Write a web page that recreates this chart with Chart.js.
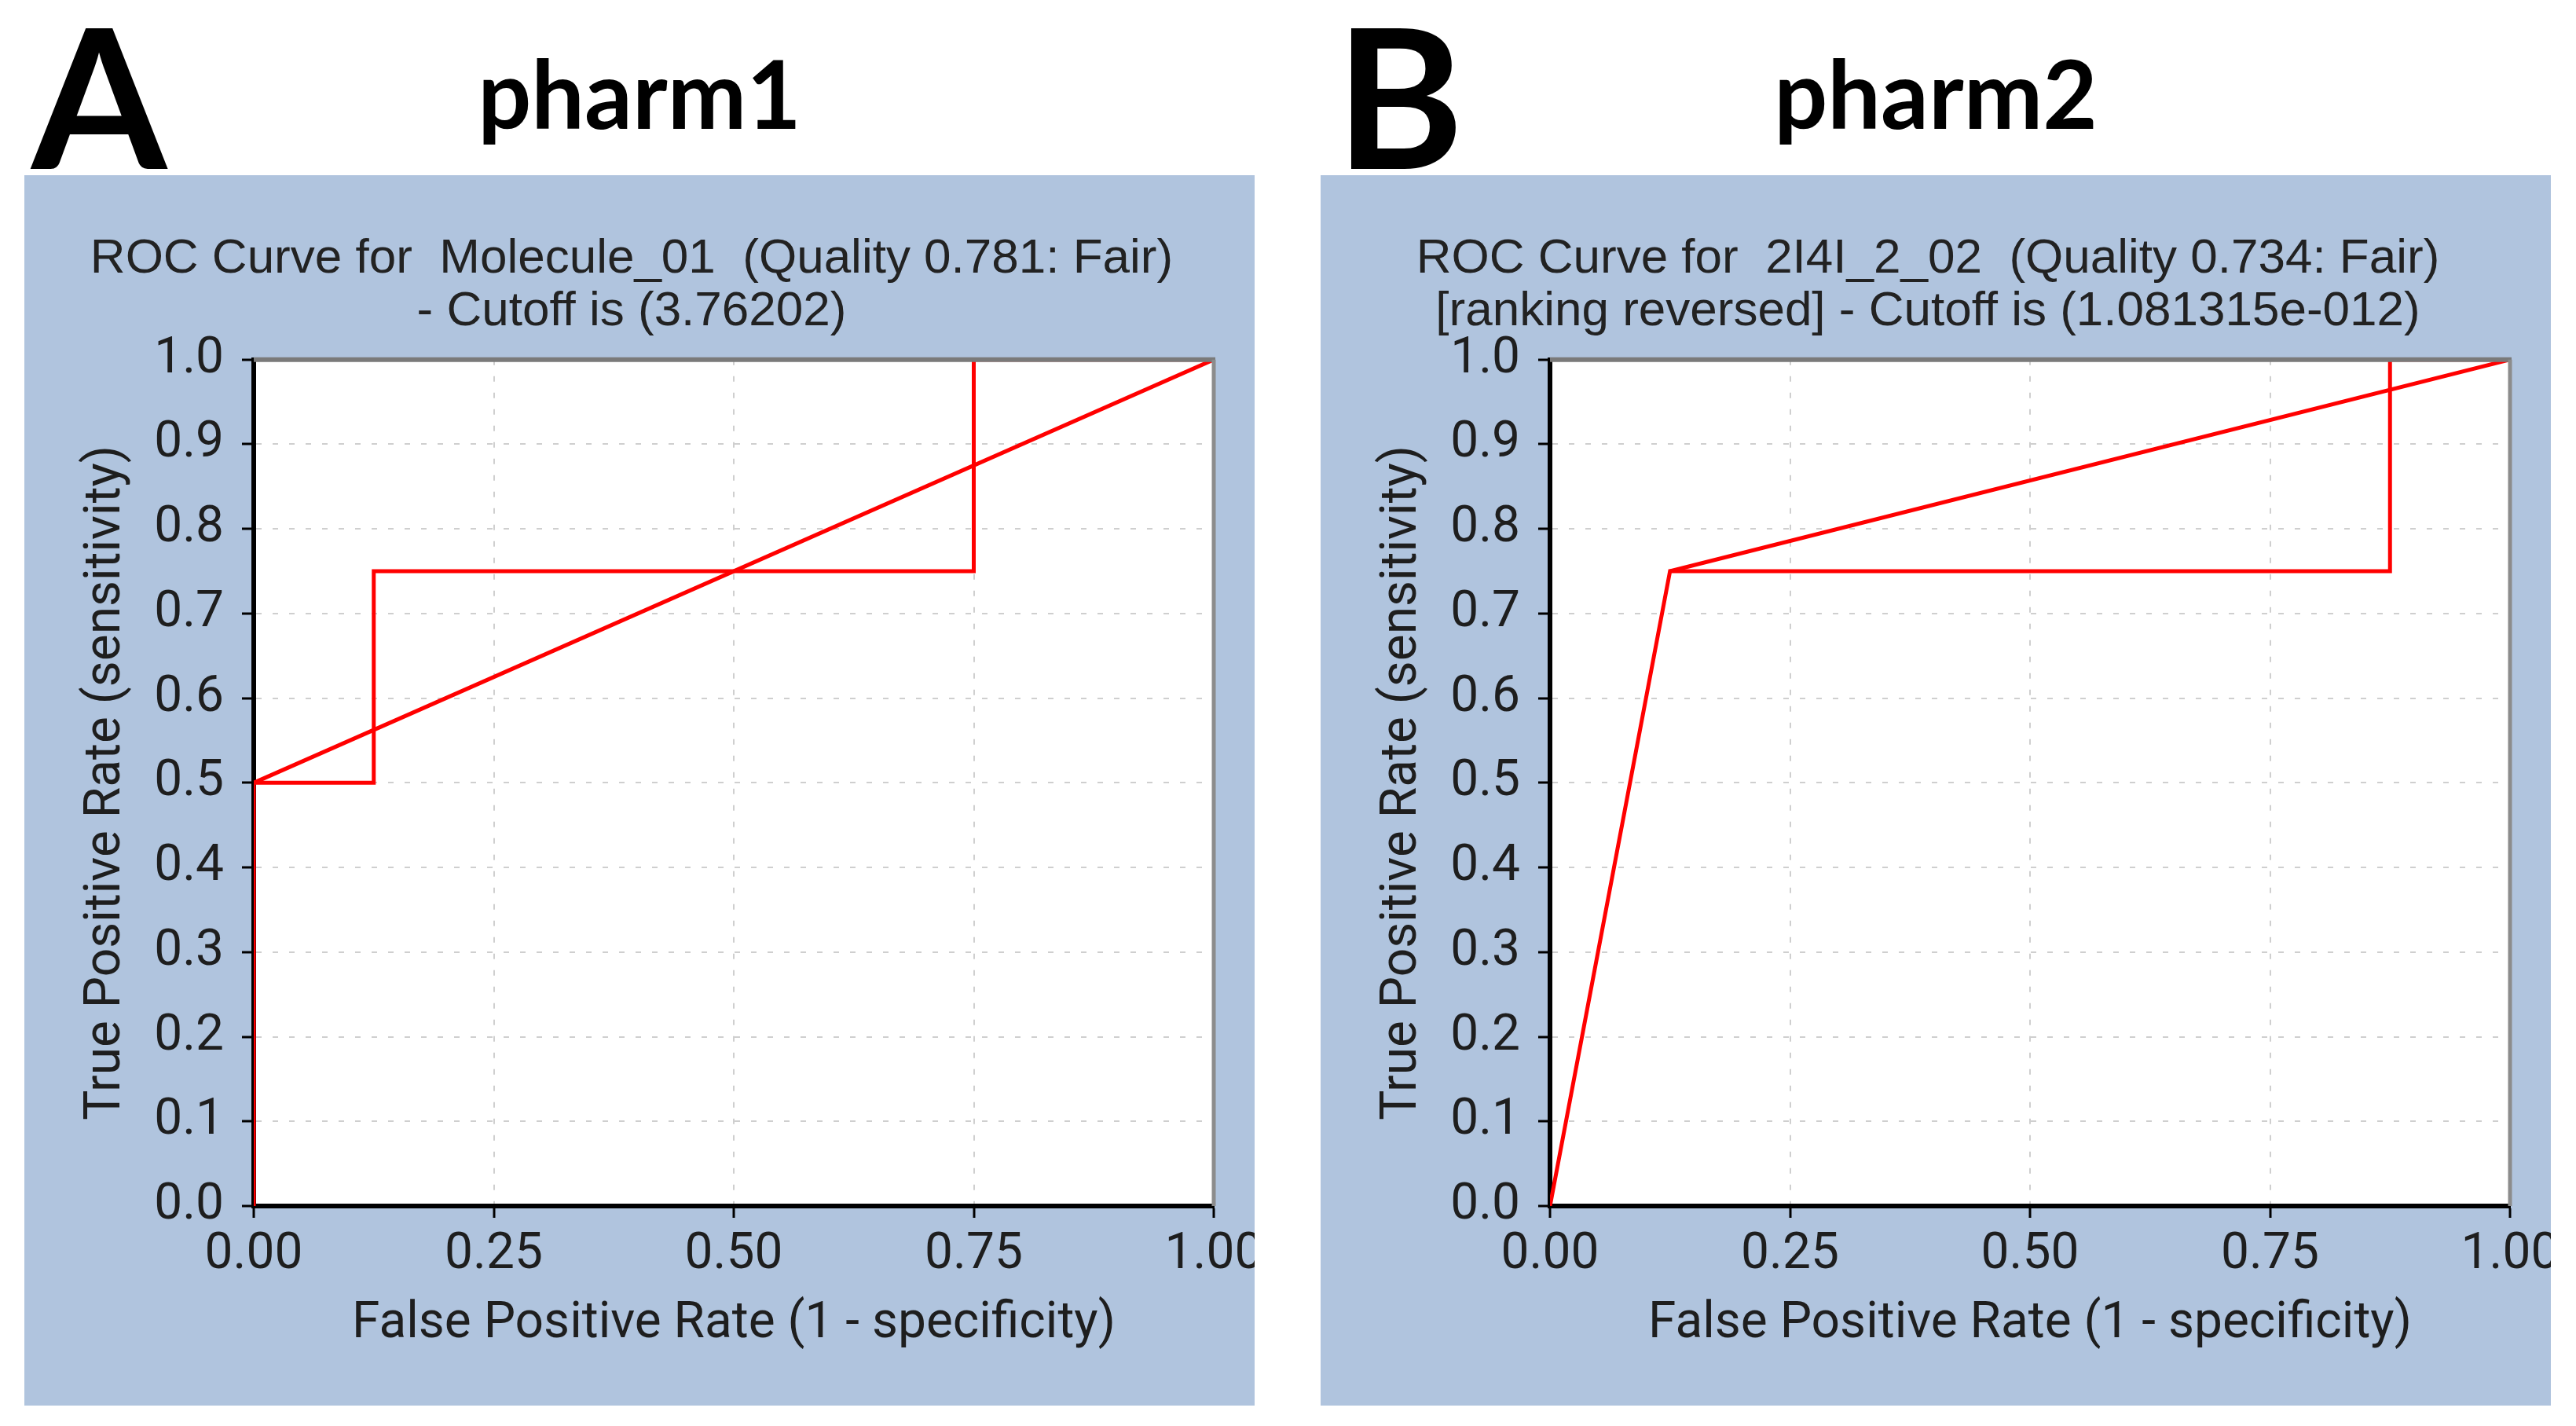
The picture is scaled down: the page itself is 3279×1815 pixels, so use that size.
<!DOCTYPE html>
<html>
<head>
<meta charset="utf-8">
<script src="https://cdn.jsdelivr.net/npm/chart.js@4.4.1/dist/chart.umd.min.js"></script>
<style>
  html, body { margin: 0; padding: 0; background: #ffffff; }
  body { width: 3279px; height: 1815px; position: relative; overflow: hidden; }
  .panel { position: absolute; top: 223px; width: 1566px; height: 1566px; background: #b0c4de; overflow: hidden; }
  .panel canvas { position: absolute; left: 0; top: 0; }
  .letter { position: absolute; font-family: 'Lato', sans-serif; font-weight: 700; font-size: 248px; line-height: 1; color: #000; }
  .pharm { position: absolute; top: 58px; width: 1566px; text-align: center; font-family: 'Lato', sans-serif; font-weight: 700; font-size: 120px; line-height: 1; color: #000; }
</style>
</head>
<body>
<div class="letter" style="left:40px; top:-5px;">A</div>
<div class="pharm" style="left:31px;">pharm1</div>
<div class="letter" style="left:1700px; top:-5px;">B</div>
<div class="pharm" style="left:1681px;">pharm2</div>

<div class="panel" style="left:31px;"><canvas id="chartA" width="1620" height="1566"></canvas></div>
<div class="panel" style="left:1681px;"><canvas id="chartB" width="1620" height="1566"></canvas></div>

<script>
// ---- data ----
const xTicks = [0, 0.25, 0.5, 0.75, 1];
const yTicks = [0, 0.1, 0.2, 0.3, 0.4, 0.5, 0.6, 0.7, 0.8, 0.9, 1.0];

const titleA = ['ROC Curve for  Molecule_01  (Quality 0.781: Fair)', '- Cutoff is (3.76202)'];
const fprA = [0, 0, 0.125, 0.125, 0.75, 0.75, 1];
const tprA = [0, 0.5, 0.5, 0.75, 0.75, 1, 1];
const diagFprA = [0, 1];
const diagTprA = [0.5, 1];

const titleB = ['ROC Curve for  2I4I_2_02  (Quality 0.734: Fair)', '[ranking reversed] - Cutoff is (1.081315e-012)'];
const fprB = [0, 0.125, 0.875, 0.875, 1];
const tprB = [0, 0.75, 0.75, 1, 1];
const diagFprB = [0.125, 1];
const diagTprB = [0.75, 1];

const xTitle = 'False Positive Rate (1 - specificity)';
const yTitle = 'True Positive Rate (sensitivity)';

// ---- drawing ----
const plotFrame = {
  id: 'plotFrame',
  beforeDraw(chart) {
    const a = chart.chartArea, ctx = chart.ctx;
    ctx.save();
    ctx.fillStyle = '#ffffff';
    ctx.fillRect(a.left, a.top, a.right - a.left, a.bottom - a.top);
    ctx.restore();
  },
  afterDatasetsDraw(chart) {
    const a = chart.chartArea, ctx = chart.ctx;
    ctx.save();
    ctx.strokeStyle = '#7a7a7a';
    ctx.lineWidth = 6;
    ctx.beginPath();
    ctx.moveTo(a.left, a.top);
    ctx.lineTo(a.right + 2, a.top);
    ctx.stroke();
    ctx.strokeStyle = '#8c8c8c';
    ctx.lineWidth = 5;
    ctx.beginPath();
    ctx.moveTo(a.right, a.top);
    ctx.lineTo(a.right, a.bottom);
    ctx.stroke();
    ctx.restore();
  }
};

function pts(xs, ys) { return xs.map((x, i) => ({ x: x, y: ys[i] })); }

function makeChart(id, title, curveX, curveY, diagX, diagY) {
  const lineStyle = { showLine: true, borderColor: '#ff0000', borderWidth: 5, pointRadius: 0, fill: false, tension: 0 };
  const tickFont = { family: 'Roboto', size: 64 };
  const gridOpts = { color: '#cfcfcf', lineWidth: 2, tickColor: '#000', tickWidth: 3, tickLength: 15, z: -1 };
  new Chart(document.getElementById(id), {
    type: 'scatter',
    data: {
      datasets: [
        Object.assign({ data: pts(curveX, curveY) }, lineStyle),
        Object.assign({ data: pts(diagX, diagY) }, lineStyle)
      ]
    },
    options: {
      responsive: false,
      animation: false,
      layout: { padding: { left: 32, right: 106, top: 0, bottom: 0 } },
      plugins: {
        legend: { display: false },
        tooltip: { enabled: false },
        title: {
          display: true,
          text: title,
          color: '#222',
          font: { family: "'Liberation Sans', Arial, sans-serif", size: 62, weight: 'normal', lineHeight: 1.07 },
          padding: { top: 74, bottom: 28 }
        }
      },
      scales: {
        x: {
          type: 'linear', min: 0, max: 1,
          afterBuildTicks: s => { s.ticks = xTicks.map(v => ({ value: v })); },
          afterFit: s => { s.height = 254; },
          ticks: { callback: v => Number(v).toFixed(2), font: tickFont, color: '#1e1e1e', padding: 10, maxRotation: 0, autoSkip: false },
          grid: gridOpts,
          border: { display: true, color: '#000', width: 6, dash: [7, 14] },
          title: { display: true, text: xTitle, color: '#1e1e1e', font: { family: 'Roboto', size: 64 }, padding: { top: 0, bottom: 65 } }
        },
        y: {
          type: 'linear', min: 0, max: 1,
          afterBuildTicks: s => { s.ticks = yTicks.map(v => ({ value: v })); },
          afterFit: s => { s.width = 260; },
          ticks: { callback: v => Number(v).toFixed(1), font: tickFont, color: '#1e1e1e', padding: 23, autoSkip: false },
          grid: gridOpts,
          border: { display: true, color: '#000', width: 6, dash: [7, 14] },
          title: { display: true, text: yTitle, color: '#1e1e1e', font: { family: 'Roboto', size: 64 }, padding: { top: 35, bottom: 0 } }
        }
      }
    },
    plugins: [plotFrame]
  });
}

makeChart('chartA', titleA, fprA, tprA, diagFprA, diagTprA);
makeChart('chartB', titleB, fprB, tprB, diagFprB, diagTprB);
</script>
</body>
</html>
